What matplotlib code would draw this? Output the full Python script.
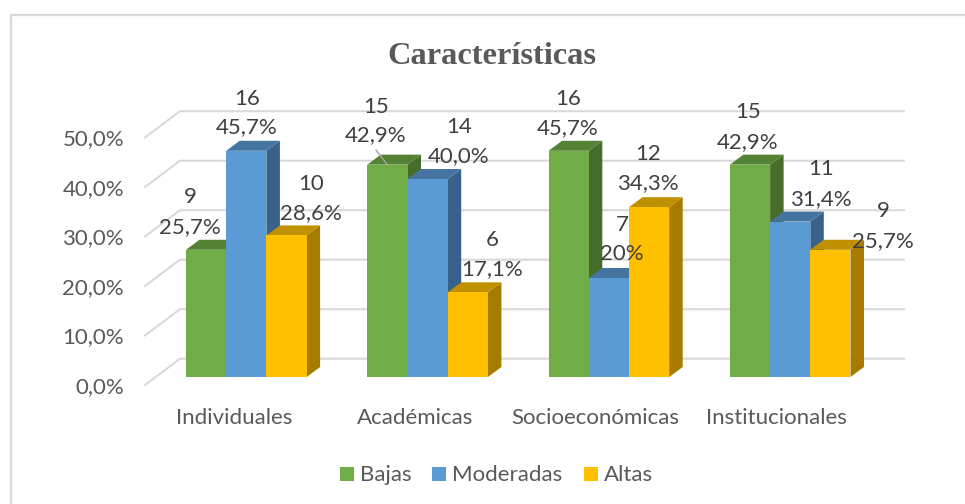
import matplotlib

matplotlib.use("Agg")
import matplotlib.pyplot as plt
from matplotlib.patches import Polygon, Rectangle

title = "Características"
categories = ["Individuales", "Académicas", "Socioeconómicas", "Institucionales"]
series_names = ["Bajas", "Moderadas", "Altas"]

bajas_pct = [25.7, 42.9, 45.7, 42.9]
moderadas_pct = [45.7, 40.0, 20.0, 31.4]
altas_pct = [28.6, 17.1, 34.3, 25.7]

bajas_n = [9, 15, 16, 15]
moderadas_n = [16, 14, 7, 11]
altas_n = [10, 6, 12, 9]

pct_labels = [
    ["25,7%", "42,9%", "45,7%", "42,9%"],
    ["45,7%", "40,0%", "20%", "31,4%"],
    ["28,6%", "17,1%", "34,3%", "25,7%"],
]
y_ticks = [0, 10, 20, 30, 40, 50]
y_tick_labels = ["0,0%", "10,0%", "20,0%", "30,0%", "40,0%", "50,0%"]

# label centres in image pixels: x, y of the count, y of the percent
label_pos = [
    [(190, 195, 225), (376, 105, 133), (568, 97, 126), (748, 110, 140)],
    [(247, 97, 125), (459, 125, 154), (622, 223, 252), (821, 167, 197)],
    [(311, 182, 211), (492, 238, 267), (648, 152, 181), (883, 209, 239)],
]
category_label_x = [234, 415, 595, 776]

W, H = 965, 504
PX_X = 181.3  # pixels per category
PX_Y = 4.95  # pixels per percent
X0, Y0 = 246.3, 377  # first category centre, bar baseline
BAR_W = 40.2 / PX_X
DX, DY = 13.5 / PX_X, 10 / PX_Y
TEXT_SHIFT = 2  # pixels, Lato sits a little high with va="center"
FS = 16

colors = ["#70ad47", "#5b9bd5", "#ffc000"]
top_colors = ["#548235", "#44749f", "#bf9000"]
side_colors = ["#486c2b", "#38628c", "#a67c00"]
GRID = "#d9d9d9"
TEXT = "#595959"
LABEL = "#404040"


def dx(px):
    return (px - X0) / PX_X


def dy(py):
    return (Y0 - py) / PX_Y


plt.rcParams["font.family"] = ["Lato", "DejaVu Sans"]
fig = plt.figure(figsize=(W / 100, H / 100), dpi=100)
ax = fig.add_axes([0, 0, 1, 1])
ax.set_xlim(dx(0), dx(W))
ax.set_ylim(dy(H), dy(0))
ax.axis("off")

# outer frame
ax.plot([dx(10.5), dx(10.5), dx(W)], [dy(H), dy(14.5), dy(14.5)], color=GRID, lw=1.6)

# walls and gridlines
for v, lab in zip(y_ticks, y_tick_labels):
    front = v - 8 / PX_Y
    wall = v + 18.3 / PX_Y
    ax.plot(
        [dx(145), dx(180), dx(904)],
        [front, wall, wall],
        color=GRID,
        lw=1.5,
        solid_joinstyle="miter",
        zorder=0,
    )
    ax.text(
        dx(124),
        front - TEXT_SHIFT / PX_Y,
        lab,
        ha="right",
        va="center",
        fontsize=FS,
        color=TEXT,
    )

values = [bajas_pct, moderadas_pct, altas_pct]
counts = [bajas_n, moderadas_n, altas_n]

for c in range(len(categories)):
    for s in range(3):
        v = values[s][c]
        x0 = c + (s - 1.5) * BAR_W
        x1 = x0 + BAR_W
        ax.add_patch(
            Polygon(
                [(x1, 0), (x1 + DX, DY), (x1 + DX, v + DY), (x1, v)],
                facecolor=side_colors[s],
                edgecolor="none",
            )
        )
        ax.add_patch(
            Polygon(
                [(x0, v), (x0 + DX, v + DY), (x1 + DX, v + DY), (x1, v)],
                facecolor=top_colors[s],
                edgecolor="none",
            )
        )
        ax.add_patch(Rectangle((x0, 0), BAR_W, v, facecolor=colors[s], edgecolor="none"))

# leader line of the Académicas / Bajas label
ax.plot([dx(376), dx(387.5)], [dy(150), dy(165)], color="#a6a6a6", lw=1)

for s in range(3):
    for c in range(len(categories)):
        px, py_n, py_p = label_pos[s][c]
        ax.text(
            dx(px),
            dy(py_n + TEXT_SHIFT),
            str(counts[s][c]),
            ha="center",
            va="center",
            fontsize=FS,
            color=LABEL,
        )
        ax.text(
            dx(px),
            dy(py_p + TEXT_SHIFT),
            pct_labels[s][c],
            ha="center",
            va="center",
            fontsize=FS,
            color=LABEL,
        )

for name, px in zip(categories, category_label_x):
    ax.text(
        dx(px),
        dy(416 + TEXT_SHIFT),
        name,
        ha="center",
        va="center",
        fontsize=FS,
        color=TEXT,
    )

ax.text(
    dx(491.5),
    dy(56),
    title,
    ha="center",
    va="center",
    fontsize=23.3,
    color=TEXT,
    fontweight="bold",
    family="Liberation Serif",
)

# legend
legend_x = [(340, 360), (432, 452), (584, 604)]
for s, name in enumerate(series_names):
    box_x, text_x = legend_x[s]
    ax.add_patch(
        Rectangle(
            (dx(box_x), dy(481)),
            14 / PX_X,
            14 / PX_Y,
            facecolor=colors[s],
            edgecolor="none",
        )
    )
    ax.text(
        dx(text_x),
        dy(473 + TEXT_SHIFT),
        name,
        ha="left",
        va="center",
        fontsize=FS,
        color=TEXT,
    )

fig.savefig("out.png", dpi=100)
